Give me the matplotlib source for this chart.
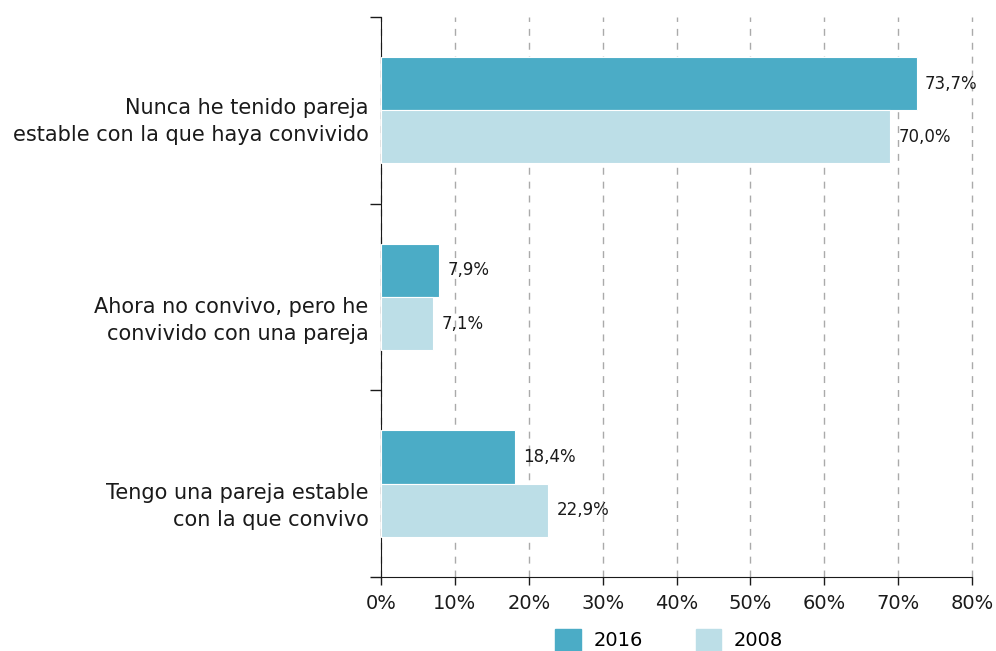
import numpy as np
import matplotlib
matplotlib.use("Agg")
import matplotlib.pyplot as plt
import matplotlib.transforms as mtransforms
from matplotlib.patches import Patch

# data
categories = [
    "Nunca he tenido pareja\nestable con la que haya convivido",
    "Ahora no convivo, pero he\nconvivido con una pareja",
    "Tengo una pareja estable\ncon la que convivo",
]
series = ["2016", "2008"]
values2016 = [72.5, 7.85, 18.15]
values2008 = [68.9, 7.05, 22.6]
labels2016 = ["73,7%", "7,9%", "18,4%"]
labels2008 = ["70,0%", "7,1%", "22,9%"]
xticks = [0, 10, 20, 30, 40, 50, 60, 70, 80]

DARK = "#4BACC6"
LIGHT = "#BCDEE7"
INK = "#1a1a1a"

plt.rcParams["font.family"] = ["DejaVu Sans"]

fig = plt.figure(figsize=(9.96, 6.51), dpi=100)
ax = fig.add_axes([0.3825, 0.1137, 0.976 - 0.3825, 0.974 - 0.1137])

centers = np.arange(len(categories)) + 0.5
h = 0.285

ax.barh(centers - h / 2, values2016, height=h, color=DARK, edgecolor="white", linewidth=0.8, zorder=3)
ax.barh(centers + h / 2, values2008, height=h, color=LIGHT, edgecolor="white", linewidth=0.8, zorder=3)

for c, v, t in zip(centers, values2016, labels2016):
    ax.annotate(t, (v, c - h / 2), xytext=(6, 0), textcoords="offset points",
                va="center", ha="left", fontsize=12, color=INK)
for c, v, t in zip(centers, values2008, labels2008):
    ax.annotate(t, (v, c + h / 2), xytext=(6, 0), textcoords="offset points",
                va="center", ha="left", fontsize=12, color=INK)

ax.set_xlim(0, 80)
ax.set_ylim(len(categories), 0)

ax.set_xticks(xticks)
ax.set_xticklabels([f"{x}%" for x in xticks], fontsize=14, color=INK)
ax.tick_params(axis="x", direction="out", length=6, width=1, color=INK, pad=6)

ax.set_yticks(np.arange(len(categories) + 1))
ax.set_yticklabels([])
ax.tick_params(axis="y", which="major", direction="out", length=8, width=1, color=INK)
ax.set_yticks(centers, minor=True)
ax.set_yticklabels(categories, minor=True, fontsize=15, ha="right", linespacing=1.42, color=INK)
ax.tick_params(axis="y", which="minor", length=0, pad=9)

# labels sit a little below the band centre in the original
shifts = [-4.4, -13.2, -12.4]
for lab, dy in zip(ax.get_yticklabels(minor=True), shifts):
    lab.set_transform(lab.get_transform() + mtransforms.ScaledTranslation(0, dy / 72, fig.dpi_scale_trans))

ax.grid(axis="x", linestyle=(0, (5, 5)), color="#aaaaaa", linewidth=1, zorder=0)
for gl in ax.xaxis.get_gridlines():
    gl.set_clip_on(False)
for s in ["top", "right"]:
    ax.spines[s].set_visible(False)
ax.spines["left"].set_color(INK)
ax.spines["bottom"].set_color(INK)

handles = [Patch(color=DARK), Patch(color=LIGHT)]
fig.legend(handles, series, loc="center", bbox_to_anchor=(0.672, 0.017), ncol=2,
           frameon=False, fontsize=14, handlelength=1.3, handleheight=1.3,
           columnspacing=2.75, handletextpad=0.65)

fig.savefig("out.png", dpi=100)
